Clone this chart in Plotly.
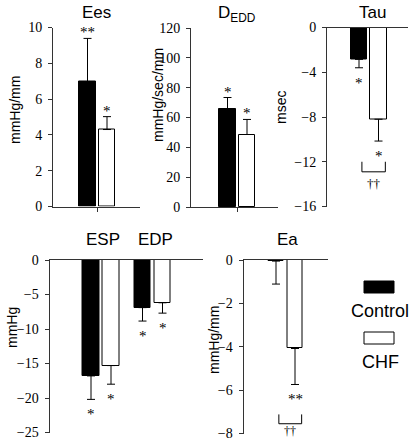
import plotly.graph_objects as go

W, H = 410, 440

# ---------------- data ----------------
series = ["Control", "CHF"]
ees_mean = [6.97, 4.30]
ees_err = [2.42, 0.72]
ees_sig = ["**", "*"]

dedd_mean = [65.5, 48.6]
dedd_err = [7.9, 10.1]
dedd_sig = ["*", "*"]

tau_mean = [-2.85, -8.2]
tau_err = [0.75, 1.95]
tau_sig = ["*", "*"]

press_groups = ["ESP", "EDP"]
esp_mean = [-16.8, -15.3]
esp_err = [3.4, 2.7]
edp_mean = [-6.9, -6.2]
edp_err = [1.95, 1.5]
press_sig = ["*", "*"]

ea_mean = [-0.05, -4.08]
ea_err = [1.06, 1.66]
ea_sig = ["", "**"]

between_sig = "††"

colors = ["black", "white"]

# ---------------- helpers ----------------
def xd(a, b):
    return [a / W, b / W]

def yd(top, bottom):
    return [1 - bottom / H, 1 - top / H]

def xr(a, b, c0, u):
    return [(a - c0) / u, (b - c0) / u]

fig = go.Figure()

TICKFONT = dict(family="Liberation Serif", size=14, color="black")
AXLINE = "#333"

def add_bars(xs, means, errs, ax, negative):
    for i in range(2):
        ey = dict(type="data", symmetric=False, color="black", thickness=1, width=4)
        if negative:
            ey.update(array=[0], arrayminus=[errs[i]])
        else:
            ey.update(array=[errs[i]], arrayminus=[0])
        fig.add_trace(go.Bar(
            x=[xs[i]], y=[means[i]], width=0.84,
            marker=dict(color=colors[i], line=dict(color="black", width=1)),
            error_y=ey, xaxis="x" + ax, yaxis="y" + ax, showlegend=False,
            hoverinfo="skip"))

def add_sig(xs, means, errs, sigs, ax, negative):
    for i in range(2):
        if not sigs[i]:
            continue
        end = means[i] + (-errs[i] if negative else errs[i])
        fig.add_annotation(x=xs[i], y=end, xref="x" + ax, yref="y" + ax,
                           text=sigs[i], showarrow=False, yanchor="middle",
                           yshift=(-15 if negative else 6),
                           font=dict(family="Liberation Serif", size=15, color="black"))

def yaxis_cfg(dom, rng, dtick, anchor):
    return dict(domain=dom, range=rng, dtick=dtick, anchor=anchor,
                showline=True, linecolor=AXLINE, linewidth=1, ticks="outside",
                ticklen=4, tickcolor=AXLINE, tickfont=TICKFONT, showgrid=False,
                zeroline=False, ticklabelstandoff=3, fixedrange=True,
                automargin=False, ticklabeloverflow="allow")

def xaxis_cfg(dom, rng, anchor, side, tickvals):
    return dict(domain=dom, range=rng, anchor=anchor, side=side,
                showline=True, linecolor=AXLINE, linewidth=1,
                ticks="outside" if tickvals else "", ticklen=4, tickcolor=AXLINE,
                tickvals=tickvals, showticklabels=False, showgrid=False,
                zeroline=False, fixedrange=True, automargin=False)

U = 19.5
pair = [0, 1]

# Panel 1: Ees
add_bars(pair, ees_mean, ees_err, "", False)
add_sig(pair, ees_mean, ees_err, ees_sig, "", False)
# Panel 2: DEDD
add_bars(pair, dedd_mean, dedd_err, "2", False)
add_sig(pair, dedd_mean, dedd_err, dedd_sig, "2", False)
# Panel 3: Tau
add_bars(pair, tau_mean, tau_err, "3", True)
add_sig(pair, tau_mean, tau_err, tau_sig, "3", True)
# Panel 4: ESP / EDP
gap = 2.575
esp_x = [0, 1]
edp_x = [gap, gap + 1]
add_bars(esp_x, esp_mean, esp_err, "4", True)
add_sig(esp_x, esp_mean, esp_err, press_sig, "4", True)
add_bars(edp_x, edp_mean, edp_err, "4", True)
add_sig(edp_x, edp_mean, edp_err, press_sig, "4", True)
# Panel 5: Ea
add_bars(pair, ea_mean, ea_err, "5", True)
add_sig(pair, ea_mean, ea_err, ea_sig, "5", True)

fig.update_layout(
    xaxis=xaxis_cfg(xd(53, 140), xr(53, 140, 87.5, U), "y", "bottom", [0.5]),
    yaxis=yaxis_cfg(yd(27.5, 206.5), [0, 10], 2, "x"),
    xaxis2=xaxis_cfg(xd(191, 278), xr(191, 278, 227.5, U), "y2", "bottom", [0.5]),
    yaxis2=yaxis_cfg(yd(28, 207), [0, 120], 20, "x2"),
    xaxis3=xaxis_cfg(xd(327, 408), xr(327, 408, 359, U), "y3", "top", None),
    yaxis3=yaxis_cfg(yd(27.5, 206.5), [-16, 0], 4, "x3"),
    xaxis4=xaxis_cfg(xd(49.5, 203), xr(49.5, 203, 91, 20), "y4", "top", None),
    yaxis4=yaxis_cfg(yd(260, 432.5), [-25, 0], 5, "x4"),
    xaxis5=xaxis_cfg(xd(243.5, 328), xr(243.5, 328, 276, 19), "y5", "top", None),
    yaxis5=yaxis_cfg(yd(260, 433.5), [-8, 0], 2, "x5"),
)

# brackets (CHF vs Control comparison)
def bracket(ax, ytop, ybot, label_y, label_shift, size):
    fig.add_shape(type="path", xref="x" + ax, yref="y" + ax,
                  path=f"M 0.15,{ytop} L 0.15,{ybot} L 1.35,{ybot} L 1.35,{ytop}",
                  line=dict(color="black", width=1))
    fig.add_annotation(x=0.75, y=label_y, xref="x" + ax, yref="y" + ax,
                       text=between_sig, showarrow=False, yanchor="middle",
                       yshift=label_shift, borderpad=0,
                       font=dict(family="Liberation Serif", size=size, color="black"))

bracket("3", -12.0, -12.9, -13.9, 0, 13)
bracket("5", -7.12, -7.55, -7.99, 2, 12)

# titles
TFONT = dict(family="Liberation Sans", size=17, color="black")
titles = [("Ees", 96, 13), ("D<sub>EDD</sub>", 237, 14), ("Tau", 372, 13),
          ("ESP", 103, 240), ("EDP", 155, 240), ("Ea", 287, 239)]
for t, px, py in titles:
    fig.add_annotation(x=px / W, y=1 - py / H, xref="paper", yref="paper", text=t,
                       showarrow=False, xanchor="center", yanchor="middle", font=TFONT)

# axis titles
AFONT = dict(family="Liberation Sans", size=14, color="black")
ytitles = [("mmHg/mm", 15, 110), ("mmHg/sec/mm", 158, 95), ("msec", 281, 108),
           ("mmHg", 12, 328), ("mmHg/mm", 214, 340)]
for t, px, py in ytitles:
    fig.add_annotation(x=px / W, y=1 - py / H, xref="paper", yref="paper", text=t,
                       textangle=-90, showarrow=False, xanchor="center",
                       yanchor="middle", font=AFONT)

# legend
LFONT = dict(family="Liberation Sans", size=18, color="black")
leg = [(series[0], colors[0], 281, 293, 311), (series[1], colors[1], 332, 344, 362)]
for name, col, t, b, ty in leg:
    fig.add_shape(type="rect", xref="paper", yref="paper",
                  x0=364 / W, x1=394 / W, y0=1 - b / H, y1=1 - t / H,
                  fillcolor=col, line=dict(color="black", width=1))
    fig.add_annotation(x=380 / W, y=1 - ty / H, xref="paper", yref="paper", text=name,
                       showarrow=False, xanchor="center", yanchor="middle", font=LFONT)

fig.update_layout(width=W, height=H, margin=dict(l=0, r=0, t=0, b=0, autoexpand=False),
                  paper_bgcolor="white", plot_bgcolor="white", showlegend=False,
                  bargap=0)

fig.write_html("out.html", config={"displayModeBar": False},
               post_script="document.body.style.margin='0';document.body.style.overflow='hidden';")
